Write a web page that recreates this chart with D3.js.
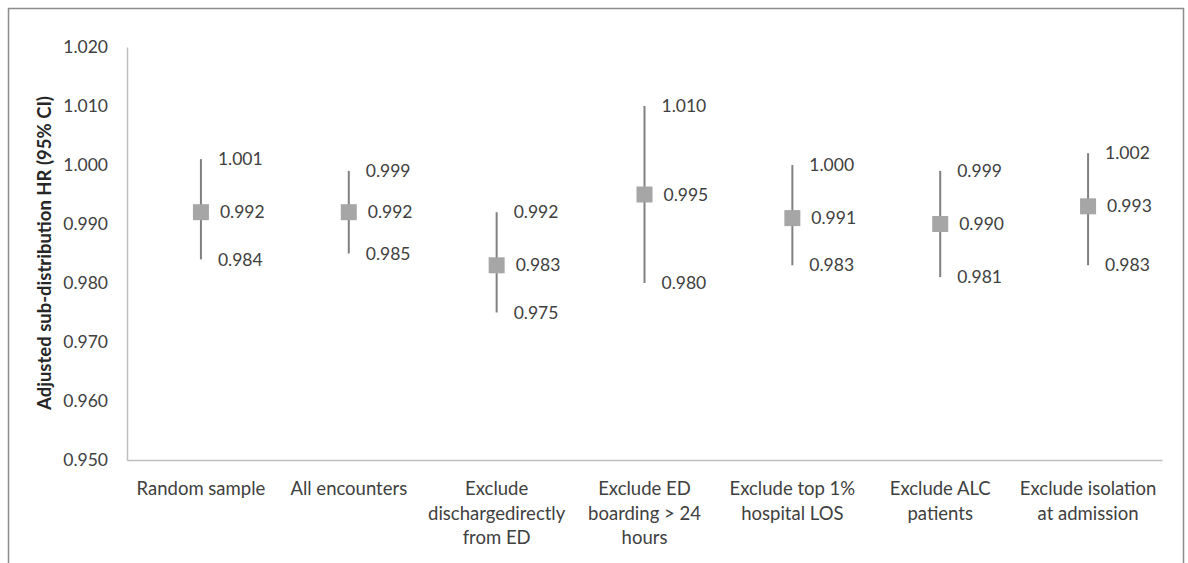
<!DOCTYPE html>
<html>
<head>
<meta charset="utf-8">
<script src="https://cdn.jsdelivr.net/npm/d3@7"></script>
<style>
  body { margin: 0; background: #fff; }
  text { font-family: Lato, "Open Sans", sans-serif; fill: #404040; }
</style>
</head>
<body>
<svg id="chart" width="1188" height="563"></svg>
<script>
// Categories (line breaks as in the chart)
var categories = [
  'Random sample',
  'All encounters',
  'Exclude\ndischargedirectly\nfrom ED',
  'Exclude ED\nboarding > 24\nhours',
  'Exclude top 1%\nhospital LOS',
  'Exclude ALC\npatients',
  'Exclude isolation\nat admission'
];

// Hazard ratios and 95% CI
var estimate = [0.992, 0.992, 0.983, 0.995, 0.991, 0.990, 0.993];
var lower    = [0.984, 0.985, 0.975, 0.980, 0.983, 0.981, 0.983];
var upper    = [1.001, 0.999, 0.992, 1.010, 1.000, 0.999, 1.002];

var yTicks = [0.95, 0.96, 0.97, 0.98, 0.99, 1.00, 1.01, 1.02];

var svg = d3.select('#chart');
var margin = {left: 127, right: 1162, top: 47, bottom: 460};

// outer frame (bottom edge is cut off)
svg.append('rect')
  .attr('x', 8.5).attr('y', 8.5)
  .attr('width', 1175).attr('height', 600)
  .attr('fill', 'none')
  .attr('stroke', '#8c8c8c')
  .attr('stroke-width', 1.5);

var x = d3.scaleBand().domain(categories).range([margin.left, margin.right]);
var y = d3.scaleLinear().domain([0.95, 1.02]).range([margin.bottom, margin.top]);

// y axis
var yAxis = svg.append('g')
  .attr('transform', 'translate(' + margin.left + ',0)')
  .call(d3.axisLeft(y).tickValues(yTicks).tickFormat(d3.format('.3f')).tickSize(0).tickPadding(19));
yAxis.select('.domain').attr('stroke', '#bfbfbf').attr('stroke-width', 1.5);
yAxis.selectAll('text').style('font-size', '17.5px').attr('fill', '#404040');

// x axis
var xAxis = svg.append('g')
  .attr('transform', 'translate(0,' + margin.bottom + ')')
  .call(d3.axisBottom(x).tickSize(0).tickFormat(''));
xAxis.select('.domain').attr('stroke', '#bfbfbf').attr('stroke-width', 1.5);

xAxis.selectAll('.tick').each(function(d) {
  var t = d3.select(this).append('text')
    .attr('text-anchor', 'middle')
    .attr('fill', '#404040')
    .style('font-size', '18.5px');
  d.split('\n').forEach(function(line, i) {
    t.append('tspan').attr('x', 0).attr('y', 35 + i * 24.5).text(line);
  });
});

// y axis title
svg.append('text')
  .attr('transform', 'translate(51,253) rotate(-90)')
  .attr('text-anchor', 'middle')
  .style('font-size', '18.5px')
  .style('font-weight', 'bold')
  .style('fill', '#262626')
  .text('Adjusted sub-distribution HR (95% CI)');

var data = categories.map(function(c, i) {
  return {cat: c, est: estimate[i], lo: lower[i], hi: upper[i]};
});

var cx = function(d) { return x(d.cat) + x.bandwidth() / 2; };
var fmt = d3.format('.3f');

var g = svg.selectAll('.pt').data(data).enter().append('g').attr('class', 'pt');

g.append('line')
  .attr('x1', cx).attr('x2', cx)
  .attr('y1', function(d) { return y(d.hi); })
  .attr('y2', function(d) { return y(d.lo); })
  .attr('stroke', '#808080')
  .attr('stroke-width', 2);

g.append('rect')
  .attr('x', function(d) { return cx(d) - 8; })
  .attr('y', function(d) { return y(d.est) - 8; })
  .attr('width', 16).attr('height', 16)
  .attr('fill', '#a6a6a6');

var labelSize = '17.5px';
g.append('text')
  .attr('x', function(d) { return cx(d) + 17; })
  .attr('y', function(d) { return y(d.hi); })
  .attr('dy', '0.35em')
  .style('font-size', labelSize)
  .text(function(d) { return fmt(d.hi); });

g.append('text')
  .attr('x', function(d) { return cx(d) + 19; })
  .attr('y', function(d) { return y(d.est); })
  .attr('dy', '0.35em')
  .style('font-size', labelSize)
  .text(function(d) { return fmt(d.est); });

g.append('text')
  .attr('x', function(d) { return cx(d) + 17; })
  .attr('y', function(d) { return y(d.lo); })
  .attr('dy', '0.35em')
  .style('font-size', labelSize)
  .text(function(d) { return fmt(d.lo); });
</script>
</body>
</html>
